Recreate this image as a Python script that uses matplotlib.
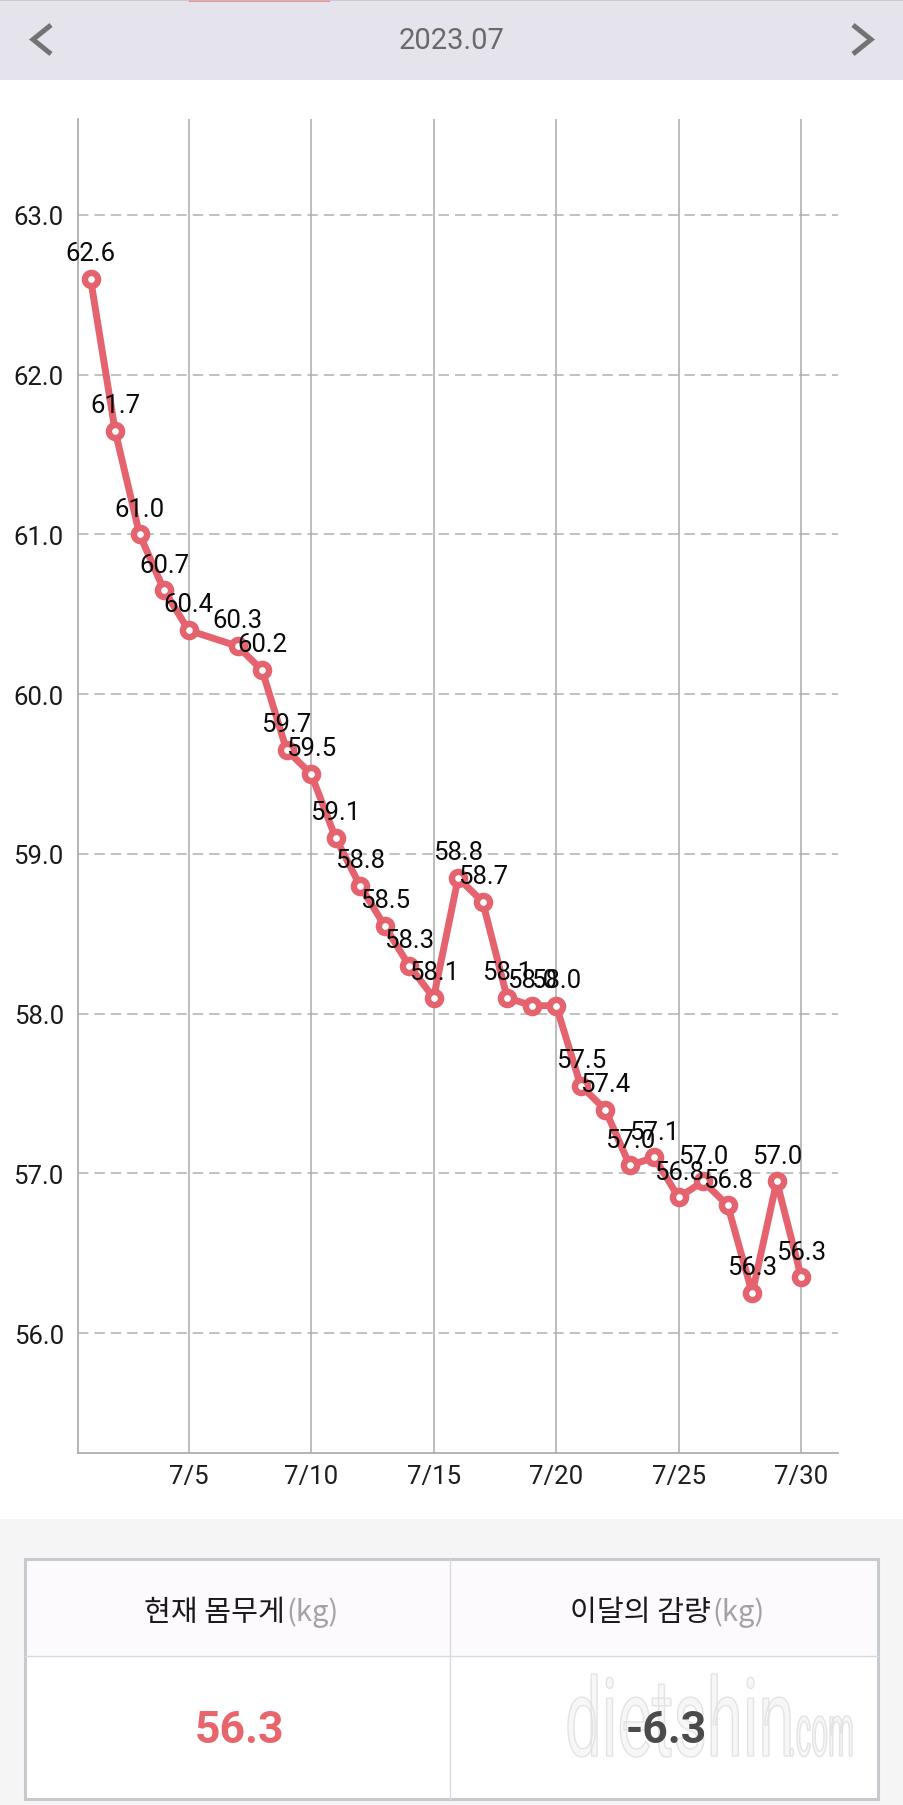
import numpy as np
import matplotlib
matplotlib.use('Agg')
import matplotlib.pyplot as plt
from matplotlib.patches import Rectangle, PathPatch
from matplotlib.textpath import TextPath
from matplotlib.font_manager import FontProperties
from matplotlib.transforms import Affine2D

plt.rcParams['font.family'] = ['Roboto', 'Noto Sans CJK KR', 'DejaVu Sans']
plt.rcParams['lines.scale_dashes'] = False

# ---------------- data ----------------
month_title = "2023.07"
days = [1, 2, 3, 4, 5, 7, 8, 9, 10, 11, 12, 13, 14, 15, 16, 17, 18, 19, 20,
        21, 22, 23, 24, 25, 26, 27, 28, 29, 30]
weights = [62.6, 61.65, 61.0, 60.65, 60.4, 60.3, 60.15, 59.65, 59.5, 59.1,
           58.8, 58.55, 58.3, 58.1, 58.85, 58.7, 58.1, 58.05, 58.05, 57.55,
           57.4, 57.05, 57.1, 56.85, 56.95, 56.8, 56.25, 56.95, 56.35]
point_labels = ["62.6", "61.7", "61.0", "60.7", "60.4", "60.3", "60.2", "59.7",
                "59.5", "59.1", "58.8", "58.5", "58.3", "58.1", "58.8", "58.7",
                "58.1", "58.0", "58.0", "57.5", "57.4", "57.0", "57.1", "56.8",
                "57.0", "56.8", "56.3", "57.0", "56.3"]
x_ticks = [5, 10, 15, 20, 25, 30]
x_tick_labels = ["7/5", "7/10", "7/15", "7/20", "7/25", "7/30"]
y_ticks = [56, 57, 58, 59, 60, 61, 62, 63]
y_tick_labels = ["56.0", "57.0", "58.0", "59.0", "60.0", "61.0", "62.0", "63.0"]
summary_titles = ["현재 몸무게", "이달의 감량"]
summary_unit = "(kg)"
summary_values = ["56.3", "-6.3"]

# ---------------- styles ----------------
W, H = 904, 1806
line_color = '#E5636E'
grid_color = '#B0B0B0'

fig = plt.figure(figsize=(W / 100, H / 100), dpi=100)
fig.patch.set_facecolor('white')

# background / decoration axes in pixel coordinates
bg = fig.add_axes([0, 0, 1, 1])
bg.set_xlim(0, W)
bg.set_ylim(H, 0)
bg.axis('off')

# header bar
bg.add_patch(Rectangle((0, 0), W, 80.7, fc='#E5E3EC', ec='none'))
bg.plot([0, W], [0.6, 0.6], color='#C4C4C8', lw=1.2)
bg.add_patch(Rectangle((189, 0), 141, 2.6, fc='#F08C8C', ec='none'))
bg.text(W / 2, 41, month_title, ha='center', va='center', fontsize=21,
        color='#6A6A6A')
bg.plot([51, 33, 51], [26, 40.5, 55], color='#737373', lw=3.6,
        solid_joinstyle='miter', solid_capstyle='butt')
bg.plot([853, 871, 853], [26, 40.5, 55], color='#737373', lw=3.6,
        solid_joinstyle='miter', solid_capstyle='butt')

# bottom grey area + summary table
bg.add_patch(Rectangle((0, 1520), W, H - 1520, fc='#F5F5F6', ec='none'))
bg.add_patch(Rectangle((25, 1560), 853, 97, fc='#FDFAFD', ec='none'))
bg.add_patch(Rectangle((25, 1657), 853, 143, fc='white', ec='none'))
bg.plot([25, 878], [1657, 1657], color='#DADADD', lw=1.0)
bg.plot([450, 450], [1560, 1800], color='#DADADD', lw=1.0)
bg.add_patch(Rectangle((25, 1560), 853, 240, fill=False, ec='#C6CACF', lw=2.2))

# watermark
wm_prop = FontProperties(family='Roboto')
tp = TextPath((0, 0), "dietshin", size=100, prop=wm_prop)
bb = tp.get_extents()
tr = Affine2D().translate(-bb.x0, 0).scale(222 / bb.width, -82 / bb.y1).translate(568, 1757)
bg.add_patch(PathPatch(tr.transform_path(tp), fc='#F7F7F7', ec='#E3E3E3', lw=1.0))
tp2 = TextPath((0, 0), ".com", size=100, prop=wm_prop)
bb2 = tp2.get_extents()
tr2 = Affine2D().translate(-bb2.x0, 0).scale(62 / bb2.width, -40 / bb2.y1).translate(790, 1757)
bg.add_patch(PathPatch(tr2.transform_path(tp2), fc='#F7F7F7', ec='#E3E3E3', lw=1.0))

split_x = [285, 711]
for sx, title in zip(split_x, summary_titles):
    bg.text(sx, 1621, title, ha='right', va='baseline', fontsize=21,
            color='#1A1A1A', family=['Noto Sans CJK KR'])
    bg.text(sx + 1, 1621, summary_unit, ha='left', va='baseline', fontsize=21,
            color='#A3A3A3', family=['Noto Sans CJK KR'])

bg.text(239, 1731, summary_values[0], ha='center', va='center', fontsize=32,
        fontweight='bold', color='#E8656C')
bg.text(666, 1731, summary_values[1], ha='center', va='center', fontsize=32,
        fontweight='bold', color='#4B4B4B')

# ---------------- chart ----------------
left, right, top, bottom = 78.3, 838, 120, 1454
ax = fig.add_axes([left / W, 1 - bottom / H, (right - left) / W, (bottom - top) / H])
ax.patch.set_alpha(0)
ax.set_xlim(0.5, 31.5)
ax.set_ylim(min(weights) - 1, max(weights) + 1)

for s in ['top', 'right']:
    ax.spines[s].set_visible(False)
for s in ['left', 'bottom']:
    ax.spines[s].set_color('#A8A8A8')
    ax.spines[s].set_linewidth(1.2)

for y in y_ticks:
    ax.axhline(y, color=grid_color, lw=1.1, linestyle=(0, (7.5, 4.3)), zorder=1)
for x in x_ticks:
    ax.axvline(x, color='#ABABAB', lw=1.1, zorder=1)

ax.set_xticks(x_ticks, x_tick_labels)
ax.set_yticks(y_ticks, y_tick_labels)
ax.tick_params(axis='x', length=0, labelsize=18.5, pad=8, labelcolor='#1E1E1E')
ax.tick_params(axis='y', length=0, labelsize=18.5, pad=10.5, labelcolor='#1A1A1A')

ax.plot(days, weights, color=line_color, lw=5, marker='o', ms=9.5,
        mfc='white', mec=line_color, mew=4.6, zorder=3,
        solid_joinstyle='round', clip_on=False)

for d, w, lab in zip(days, weights, point_labels):
    ax.annotate(lab, (d, w), xytext=(0, 13.5), textcoords='offset points',
                ha='center', va='baseline', fontsize=18.5, color='#0A0A0A',
                zorder=5)

fig.savefig('out.png', dpi=100)
